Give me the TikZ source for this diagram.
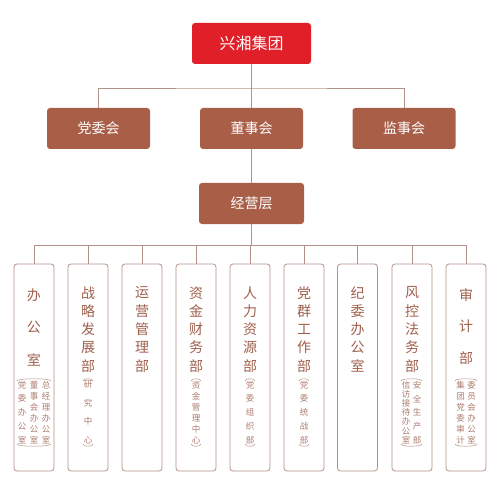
\documentclass[tikz,border=0pt]{standalone}
\usepackage{fontspec}
\setmainfont{Noto Sans CJK SC}
\definecolor{hxred}{HTML}{E11F28}
\definecolor{hxbrown}{HTML}{A95E48}
\definecolor{hxline}{HTML}{B39289}
\definecolor{hxtext}{HTML}{A0604E}
\definecolor{hxsub}{HTML}{AE7C6E}
\tikzset{
 topbox/.style={fill=hxred, rounded corners=3pt, minimum width=119pt, minimum height=41pt, text=white, font=\fontsize{16}{16}\selectfont, inner sep=0pt},
 midbox/.style={fill=hxbrown, rounded corners=3pt, minimum width=103pt, minimum height=41pt, text=white, font=\fontsize{14}{14}\selectfont, inner sep=0pt},
 deptbox/.style={draw=hxline, line width=0.8pt, rounded corners=3pt, minimum width=40pt, minimum height=207pt, fill=white, inner sep=0pt},
 conn/.style={draw=hxline, line width=0.8pt},
 bigch/.style={text=hxtext, font=\fontsize{14}{14}\selectfont, inner sep=0pt},
 smallch/.style={text=hxsub, font=\fontsize{8.5}{8.5}\selectfont, inner sep=0pt},
 brk/.style={draw=hxline, line width=0.5pt},
}
\newcommand\hxcol[6]{%
 \foreach \c [count=\i] in {#6} {\node[#5] (#1-\i) at (#2, {#3+(\i-1)*#4}) {\c};}}
\newcommand\hxbrk[4]{%
 \draw[brk] (#1,#3+3) .. controls (#1,#3) and (#2,#3) .. (#2,#3+3);
 \draw[brk] (#1,#4-3) .. controls (#1,#4) and (#2,#4) .. (#2,#4-3);}
\begin{document}
\begin{tikzpicture}[x=1pt,y=-1pt]
\fill[white] (0,0) rectangle (501,500);
\useasboundingbox (0,0) rectangle (501,500);
% top levels
\node[topbox] (top) at (251.5,43.5) {兴湘集团};
\node[midbox] (dwh) at (98.5,128.5) {党委会};
\node[midbox] (dsh) at (251.5,128.5) {董事会};
\node[midbox] (jsh) at (404,128.5) {监事会};
\node[midbox, minimum width=105pt] (jyc) at (251.5,203.5) {经营层};
\coordinate (bus1) at (251.5,88);
\coordinate (bus2) at (251.5,245);
% departments
\node[deptbox] (d1) at (34,367.5) {};
\node[deptbox] (d2) at (88,367.5) {};
\node[deptbox] (d3) at (142,367.5) {};
\node[deptbox] (d4) at (196,367.5) {};
\node[deptbox] (d5) at (250,367.5) {};
\node[deptbox] (d6) at (304,367.5) {};
\node[deptbox] (d7) at (357.5,367.5) {};
\node[deptbox] (d8) at (412,367.5) {};
\node[deptbox] (d9) at (466,367.5) {};
% connectors
\draw[conn] (top) -- (dsh);
\draw[conn] (dwh.north) |- (bus1) -| (jsh.north);
\draw[conn] (dsh) -- (jyc);
\draw[conn] (jyc.south) -- (bus2);
\draw[conn] (d1.north) -- (d1.north |- bus2) -- (d9.north |- bus2) -- (d9.north);
\foreach \k in {2,...,8} {\draw[conn] (d\k.north) -- (d\k.north |- bus2);}
% main texts
\hxcol{t1}{34}{295}{32.5}{bigch}{办,公,室}
\hxcol{t2}{88}{293}{18.2}{bigch}{战,略,发,展,部}
\hxcol{t3}{142}{293}{18.2}{bigch}{运,营,管,理,部}
\hxcol{t4}{196}{293}{18.2}{bigch}{资,金,财,务,部}
\hxcol{t5}{250}{293}{18.2}{bigch}{人,力,资,源,部}
\hxcol{t6}{304}{293}{18.2}{bigch}{党,群,工,作,部}
\hxcol{t7}{357.5}{293}{18.2}{bigch}{纪,委,办,公,室}
\hxcol{t8}{412}{293}{18.2}{bigch}{风,控,法,务,部}
\hxcol{t9}{466}{295}{31.5}{bigch}{审,计,部}
% sub texts
\hxcol{s1a}{22}{385}{13.75}{smallch}{党,委,办,公,室}
\hxcol{s1b}{34}{385}{11}{smallch}{董,事,会,办,公,室}
\hxcol{s1c}{46}{385}{11}{smallch}{总,经,理,办,公,室}
\hxbrk{17}{51}{378}{447}
\hxcol{s2}{88}{385}{18.33}{smallch}{研,究,中,心}
\hxbrk{83}{93}{378}{447}
\hxcol{s4}{196}{385}{11}{smallch}{资,金,管,理,中,心}
\hxbrk{191}{201}{378}{447}
\hxcol{s5}{250}{385}{13.75}{smallch}{党,委,组,织,部}
\hxbrk{245}{255}{378}{447}
\hxcol{s6}{304}{385}{13.75}{smallch}{党,委,统,战,部}
\hxbrk{299}{309}{378}{447}
\hxcol{s8a}{406}{385}{9.17}{smallch}{信,访,接,待,办,公,室}
\hxcol{s8b}{417}{385}{13.75}{smallch}{安,全,生,产,部}
\hxbrk{401}{422}{378}{447}
\hxcol{s9a}{460.5}{385}{11}{smallch}{集,团,党,委,审,计}
\hxcol{s9b}{471.5}{385}{11}{smallch}{委,员,会,办,公,室}
\hxbrk{455}{477}{378}{447}
\end{tikzpicture}
\end{document}
